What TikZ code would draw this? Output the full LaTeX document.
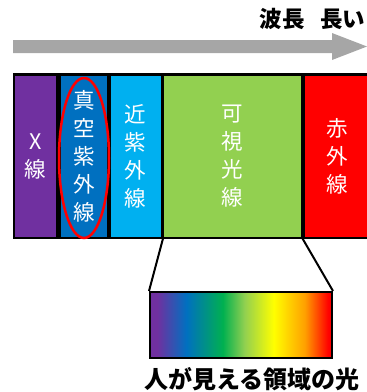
\documentclass[tikz,border=0pt]{standalone}
\usepackage{fontspec}
\newfontfamily\jp{Noto Sans CJK JP}
\usetikzlibrary{positioning}
\definecolor{cX}{HTML}{7030A0}
\definecolor{cVUV}{HTML}{0070C0}
\definecolor{cNUV}{HTML}{00B0F0}
\definecolor{cVis}{HTML}{92D050}
\definecolor{cIR}{HTML}{FF0000}
\definecolor{cArrow}{HTML}{A6A6A6}
\definecolor{sGreen}{HTML}{00B050}
\definecolor{sYellow}{HTML}{FFFF00}
\definecolor{sOrange}{HTML}{FFA000}
\pgfdeclarehorizontalshading{spectrum}{100bp}{%
  color(0bp)=(cX); color(25bp)=(cX); color(27bp)=(cX);
  color(35bp)=(cVUV); color(45bp)=(sGreen); color(51bp)=(cVis);
  color(59bp)=(sYellow); color(67.5bp)=(sOrange); color(74bp)=(cIR);
  color(100bp)=(cIR)}
\tikzset{
  band/.style={rectangle, inner sep=0pt, outer sep=0pt, text=white,
    font=\jp\fontsize{21.5}{28}\selectfont, align=center},
  zoomline/.style={draw=black, line width=2pt},
}
\begin{document}
\begin{tikzpicture}[x=1pt, y=-1pt]
\useasboundingbox (0,0) rectangle (367,392);
% wavelength arrow
\fill[cArrow] (13,40) -- (332,40) -- (332,33) -- (367,46.5) -- (332,60) -- (332,53) -- (13,53) -- cycle;
\node[anchor=east, font=\jp\bfseries\fontsize{22.5}{26}\selectfont, inner sep=0pt] (title) at (365.5,19) {波長\hspace{0.7em}長い};
% band background
\fill[black] (13,72.5) rectangle (370,239);
\node[band, fill=cX, minimum width=41pt, minimum height=161pt] (x) at (35.5,156) {X\\線};
\node[band, fill=cVUV, minimum width=46pt, minimum height=161pt] (vuv) at (84,156) {真\\空\\紫\\外\\線};
\node[band, fill=cNUV, minimum width=50pt, minimum height=161pt] (nuv) at (135.5,156) {近\\紫\\外\\線};
\node[band, fill=cVis, minimum width=137pt, minimum height=161pt] (vis) at (232.5,156) {可\\視\\光\\線};
\node[band, fill=cIR, minimum width=65pt, minimum height=161pt] (ir) at (337.5,156) {赤\\外\\線};
% red ellipse
\draw[cIR, line width=2.5pt] (vuv.center) ++(0,2) ellipse [x radius=25pt, y radius=80pt];
% visible spectrum
\node[draw=black, line width=2pt, minimum width=182pt, minimum height=66pt, inner sep=0pt, shading=spectrum] (spec) at (241,325) {};
\coordinate (vl) at (163,238.5);
\coordinate (vr) at (302.5,238.5);
\draw[zoomline] (vl) -- (spec.north west);
\draw[zoomline] (vr) -- (spec.north east);
\node[font=\jp\bfseries\fontsize{24}{27}\selectfont, inner sep=0pt] (cap) at (252,379) {人が見える領域の光};
\end{tikzpicture}
\end{document}
